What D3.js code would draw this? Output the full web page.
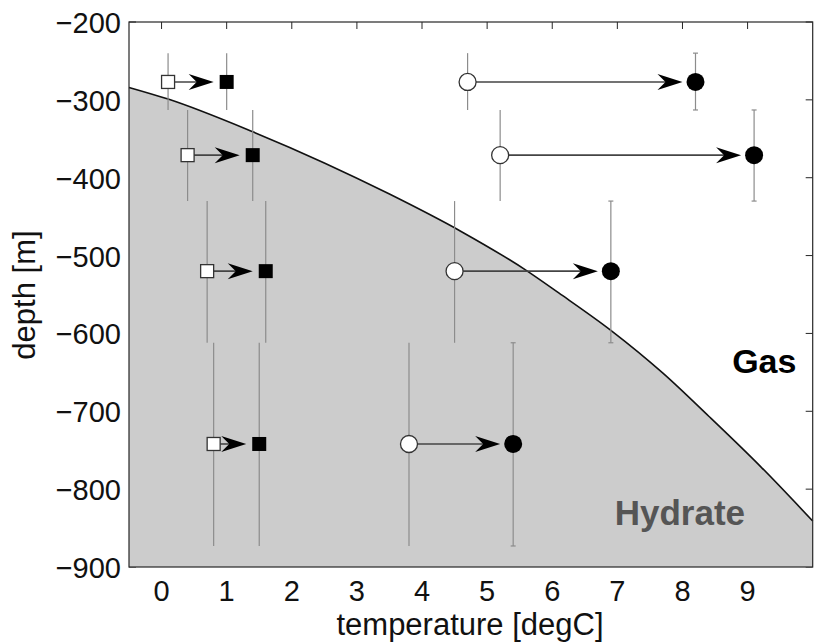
<!DOCTYPE html>
<html lang="en-US">
<head>
    <title>Hydrate stability</title>
    <meta charset="utf-8">
    <script src="https://cdn.jsdelivr.net/npm/d3@7"></script>
    <style>
        body { margin: 0; background: #fff; }
        svg { display: block; }
    </style>
</head>
<body>
    <svg></svg>
<script>

    // phase boundary
    const boundaryTemp  = [-0.5, 0.1, 1.4, 2.5, 3.5, 4.6, 5.6, 6.1, 6.9, 7.7, 8.4, 9.2, 10];
    const boundaryDepth = [-284, -299, -341, -381, -421, -469, -519, -548, -596, -651, -706, -771, -841];

    // depth bins
    const rowDepth = [-277, -371, -520, -742];
    const errTop   = [-240, -313, -430, -612];
    const errBot   = [-313, -430, -612, -873];

    // squares: before -> after
    const sqBefore = [0.1, 0.4, 0.7, 0.8];
    const sqAfter  = [1.0, 1.4, 1.6, 1.5];

    // circles: before -> after
    const ciBefore = [4.7, 5.2, 4.5, 3.8];
    const ciAfter  = [8.2, 9.1, 6.9, 5.4];

    const xTicks = [0, 1, 2, 3, 4, 5, 6, 7, 8, 9];
    const yTicks = [-900, -800, -700, -600, -500, -400, -300, -200];

    const opt = {
        width: 817,
        height: 644,
        left: 129,
        top: 22,
        right: 812.7,
        bottom: 567,
        font: '"Liberation Sans", Arial, Helvetica, sans-serif',
        tickSize: 29,
        labelSize: 31,
        axisColor: '#262626',
        fill: '#cccccc'
    };

    const svg = d3.select('svg')
        .attr('width', opt.width)
        .attr('height', opt.height);

    const x = d3.scaleLinear().domain([-0.5, 10]).range([opt.left, opt.right]);
    const y = d3.scaleLinear().domain([-900, -200]).range([opt.bottom, opt.top]);

    // ticks first, the grey patch covers them like in the original
    const ticks = svg.append('g').attr('stroke', opt.axisColor).attr('stroke-width', 1);
    xTicks.forEach(t => {
        ticks.append('line').attr('x1', x(t)).attr('x2', x(t)).attr('y1', opt.bottom).attr('y2', opt.bottom - 7);
        ticks.append('line').attr('x1', x(t)).attr('x2', x(t)).attr('y1', opt.top).attr('y2', opt.top + 7);
    });
    yTicks.forEach(t => {
        ticks.append('line').attr('x1', opt.left).attr('x2', opt.left + 7).attr('y1', y(t)).attr('y2', y(t));
        ticks.append('line').attr('x1', opt.right).attr('x2', opt.right - 7).attr('y1', y(t)).attr('y2', y(t));
    });

    const boundary = boundaryTemp.map((t, i) => [t, boundaryDepth[i]]);

    const area = d3.area()
        .x(d => x(d[0]))
        .y0(y(-900))
        .y1(d => y(d[1]))
        .curve(d3.curveMonotoneX);

    const line = d3.line()
        .x(d => x(d[0]))
        .y(d => y(d[1]))
        .curve(d3.curveMonotoneX);

    svg.append('path')
        .datum(boundary)
        .attr('d', area)
        .attr('fill', opt.fill);

    svg.append('path')
        .datum(boundary)
        .attr('d', line)
        .attr('fill', 'none')
        .attr('stroke', '#111')
        .attr('stroke-width', 1.6);

    // region labels
    svg.append('text')
        .attr('x', x(9.75)).attr('y', y(-651))
        .attr('text-anchor', 'end')
        .style('font-family', opt.font)
        .style('font-size', '34px')
        .style('font-weight', 'bold')
        .attr('fill', '#000')
        .text('Gas');

    svg.append('text')
        .attr('x', x(6.96)).attr('y', y(-846))
        .style('font-family', opt.font)
        .style('font-size', '35px')
        .style('font-weight', 'bold')
        .attr('fill', '#555555')
        .text('Hydrate');

    // error bars
    const errColor = '#8c8c8c';
    const eb = svg.append('g').attr('stroke', errColor).attr('stroke-width', 1.2);
    function errBar(t, i, cap) {
        eb.append('line')
            .attr('x1', x(t)).attr('x2', x(t))
            .attr('y1', y(errTop[i])).attr('y2', y(errBot[i]));
        if (cap) {
            [errTop[i], errBot[i]].forEach(v => {
                eb.append('line')
                    .attr('x1', x(t) - 2.5).attr('x2', x(t) + 2.5)
                    .attr('y1', y(v)).attr('y2', y(v));
            });
        }
    }
    rowDepth.forEach((d, i) => {
        errBar(sqBefore[i], i, false);
        errBar(sqAfter[i], i, false);
        errBar(ciBefore[i], i, false);
        errBar(ciAfter[i], i, true);
    });

    // arrows
    const ar = svg.append('g');
    function arrow(t0, t1, d) {
        const x0 = x(t0), x1 = x(t1) - 13, yy = y(d);
        ar.append('line')
            .attr('x1', x0).attr('x2', x1 - 10)
            .attr('y1', yy).attr('y2', yy)
            .attr('stroke', '#444')
            .attr('stroke-width', 1.6);
        ar.append('path')
            .attr('d', `M${x1},${yy} L${x1 - 25},${yy - 8} L${x1 - 17},${yy} L${x1 - 25},${yy + 8} Z`)
            .attr('fill', '#000');
    }
    rowDepth.forEach((d, i) => {
        arrow(sqBefore[i], sqAfter[i], d);
        arrow(ciBefore[i], ciAfter[i], d);
    });

    // markers
    const mk = svg.append('g');
    rowDepth.forEach((d, i) => {
        mk.append('rect')
            .attr('x', x(sqBefore[i]) - 6.5).attr('y', y(d) - 6.5)
            .attr('width', 13).attr('height', 13)
            .attr('fill', '#fff').attr('stroke', '#333').attr('stroke-width', 1.3);
        mk.append('rect')
            .attr('x', x(sqAfter[i]) - 7).attr('y', y(d) - 7)
            .attr('width', 14).attr('height', 14)
            .attr('fill', '#000');
        mk.append('circle')
            .attr('cx', x(ciBefore[i])).attr('cy', y(d)).attr('r', 8.5)
            .attr('fill', '#fff').attr('stroke', '#333').attr('stroke-width', 1.3);
        mk.append('circle')
            .attr('cx', x(ciAfter[i])).attr('cy', y(d)).attr('r', 9)
            .attr('fill', '#000');
    });

    // frame
    svg.append('rect')
        .attr('x', opt.left).attr('y', opt.top)
        .attr('width', opt.right - opt.left).attr('height', opt.bottom - opt.top)
        .attr('fill', 'none')
        .attr('stroke', opt.axisColor)
        .attr('stroke-width', 1.2);

    // tick labels
    const fmt = d3.format('d');
    svg.append('g').selectAll('text')
        .data(xTicks).enter().append('text')
        .attr('x', d => x(d)).attr('y', 601)
        .attr('text-anchor', 'middle')
        .style('font-family', opt.font)
        .style('font-size', opt.tickSize + 'px')
        .attr('fill', '#111')
        .text(d => fmt(d));

    svg.append('g').selectAll('text')
        .data(yTicks).enter().append('text')
        .attr('x', 121).attr('y', d => y(d) + 11)
        .attr('text-anchor', 'end')
        .style('font-family', opt.font)
        .style('font-size', opt.tickSize + 'px')
        .attr('fill', '#111')
        .text(d => fmt(d));

    // axis titles
    svg.append('text')
        .attr('x', 470).attr('y', 635)
        .attr('text-anchor', 'middle')
        .style('font-family', opt.font)
        .style('font-size', opt.labelSize + 'px')
        .attr('fill', '#111')
        .text('temperature [degC]');

    svg.append('text')
        .attr('text-anchor', 'middle')
        .attr('transform', 'translate(35,295)rotate(-90)')
        .style('font-family', opt.font)
        .style('font-size', opt.labelSize + 'px')
        .attr('fill', '#111')
        .text('depth [m]');

</script>
</body>
</html>
